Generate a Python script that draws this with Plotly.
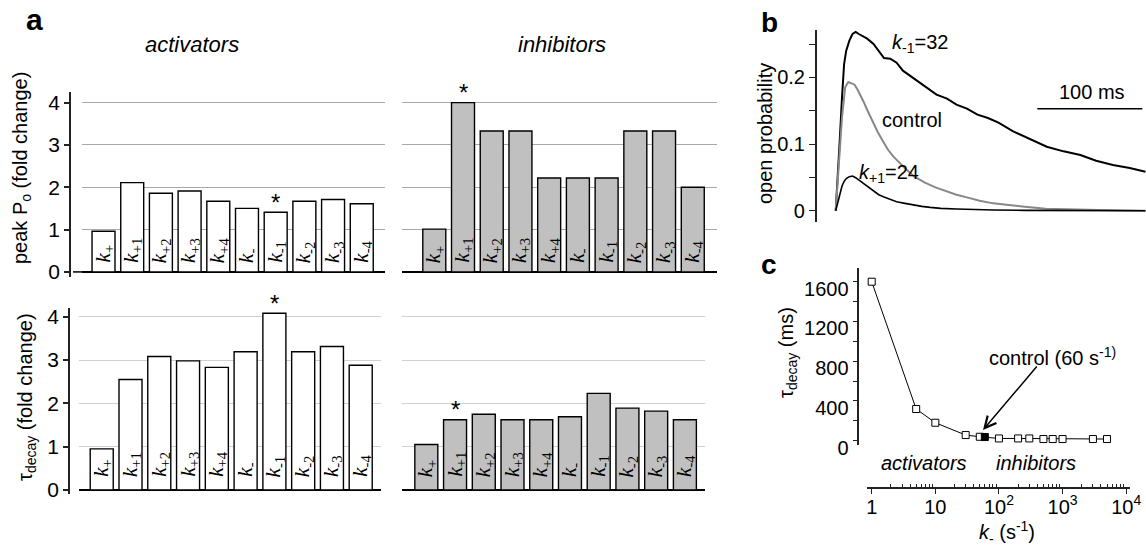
import plotly.graph_objects as go

W, H = 1146, 548
def px(x): return x / W
def py(y): return 1 - y / H

# ---------------- data ----------------
categories = ["k+", "k+1", "k+2", "k+3", "k+4", "k-", "k-1", "k-2", "k-3", "k-4"]
act_peak = [0.96, 2.11, 1.86, 1.91, 1.67, 1.50, 1.41, 1.67, 1.71, 1.61]
inh_peak = [1.01, 4.00, 3.33, 3.33, 2.22, 2.22, 2.22, 3.33, 3.33, 2.00]
act_tau = [0.95, 2.55, 3.08, 2.98, 2.83, 3.19, 4.08, 3.19, 3.31, 2.88]
inh_tau = [1.05, 1.62, 1.75, 1.62, 1.62, 1.69, 2.23, 1.89, 1.82, 1.62]
star_act_peak = ["k-1"]
star_inh_peak = ["k+1"]
star_act_tau = ["k-1"]
star_inh_tau = ["k+1"]
bar_ticks = [0, 1, 2, 3, 4]

# panel b traces (time in ms, open probability)
t_km1 = [0, 2, 4, 6, 8, 10, 13, 16, 19, 22, 26, 30, 36, 42, 46, 52, 58, 64, 70, 77, 85,
         96, 106, 115, 125, 135, 145, 155, 169, 185, 201, 217, 233, 248, 264, 280, 295]
p_km1 = [0, 0.05, 0.11, 0.17, 0.22, 0.24, 0.255, 0.265, 0.268, 0.265, 0.262, 0.258, 0.25,
         0.238, 0.229, 0.228, 0.222, 0.21, 0.203, 0.196, 0.186, 0.174, 0.168, 0.159, 0.153,
         0.144, 0.139, 0.132, 0.119, 0.107, 0.096, 0.089, 0.0835, 0.075, 0.0685, 0.064, 0.0585]
t_ctrl = [0, 3, 6, 9, 12, 15, 18, 21, 24, 27, 30, 33, 36, 40, 45, 50, 55, 60, 67, 75, 85,
          95, 105, 115, 125, 137, 150, 165, 180, 200, 220, 250, 295]
p_ctrl = [0, 0.07, 0.14, 0.185, 0.193, 0.191, 0.189, 0.181, 0.172, 0.162, 0.151, 0.141,
          0.131, 0.118, 0.104, 0.091, 0.081, 0.073, 0.062, 0.051, 0.042, 0.035, 0.029,
          0.024, 0.02, 0.015, 0.011, 0.008, 0.006, 0.003, 0.002, 0.001, 0]
t_kp1 = [0, 2, 4, 6, 8, 10, 13, 16, 19, 22, 26, 31, 36, 41, 46, 52, 58, 66, 74, 82, 90,
         100, 115, 130, 150, 180, 220, 295]
p_kp1 = [0, 0.014, 0.026, 0.037, 0.044, 0.048, 0.051, 0.052, 0.0495, 0.046, 0.041, 0.035,
         0.0285, 0.024, 0.0205, 0.017, 0.0135, 0.011, 0.0085, 0.0065, 0.005, 0.0035, 0.0025,
         0.0015, 0.001, 0.0005, 0, 0]
b_ticks = [0, 0.05, 0.1, 0.15, 0.2, 0.25]
b_ticktext = ["0", "", "0.1", "", "0.2", ""]

# panel c
k_minus = [1, 5, 10, 30, 50, 60, 100, 200, 300, 500, 700, 1000, 3000, 5000]
tau_decay = [1600, 319, 181, 57, 40, 37, 23, 23, 23, 17, 17, 17, 17, 17]
control_k = 60
c_yticks = [0, 200, 400, 600, 800, 1000, 1200, 1400, 1600]
c_yticktext = ["0", "", "400", "", "800", "", "1200", "", "1600"]
c_xticks = [1, 10, 100, 1000, 10000]
c_xticktext = ["1", "10", "10<sup>2</sup>", "10<sup>3</sup>", "10<sup>4</sup>"]

FONT = "Liberation Sans, Arial, sans-serif"
SERIF = "Liberation Serif, Times New Roman, serif"

fig = go.Figure()

panels = [
    ("x", "y", act_peak, "white", star_act_peak),
    ("x2", "y2", inh_peak, "#c0c0c0", star_inh_peak),
    ("x3", "y3", act_tau, "white", star_act_tau),
    ("x4", "y4", inh_tau, "#c0c0c0", star_inh_tau),
]
annotations = []
for xa, ya, vals, col, stars in panels:
    fig.add_trace(go.Bar(x=categories, y=vals, xaxis=xa, yaxis=ya, width=0.8,
                         marker=dict(color=col, line=dict(color="black", width=1.4))))
    top = ya in ("y", "y2")
    for c in categories:
        annotations.append(dict(x=c, y=0, xref=xa, yref=ya, text="<i>k</i><sub>%s</sub>" % c[1:],
                                textangle=-90, showarrow=False, xanchor="center", yanchor="bottom",
                                yshift=7 if top else 11,
                                font=dict(family=SERIF, size=21, color="black")))
    for c in stars:
        v = vals[categories.index(c)]
        annotations.append(dict(x=c, y=v, xref=xa, yref=ya, text="*", showarrow=False,
                                xanchor="center", yanchor="middle", yshift=10,
                                font=dict(family=FONT, size=24, color="black")))

# panel b
fig.add_trace(go.Scatter(x=t_km1, y=p_km1, xaxis="x5", yaxis="y5", mode="lines",
                         line=dict(color="black", width=2)))
fig.add_trace(go.Scatter(x=t_ctrl, y=p_ctrl, xaxis="x5", yaxis="y5", mode="lines",
                         line=dict(color="#888888", width=2)))
fig.add_trace(go.Scatter(x=t_kp1, y=p_kp1, xaxis="x5", yaxis="y5", mode="lines",
                         line=dict(color="black", width=1.6)))

# panel c
fig.add_trace(go.Scatter(x=k_minus, y=tau_decay, xaxis="x6", yaxis="y6", mode="lines+markers",
                         line=dict(color="black", width=1),
                         marker=dict(symbol="square", size=7,
                                     color=["black" if k == control_k else "white" for k in k_minus],
                                     line=dict(color="black", width=1))))

def bar_x(d0, d1, r0, r1):
    return dict(domain=[px(d0), px(d1)], range=[r0, r1], type="category", showticklabels=False,
                ticks="", showline=False, showgrid=False, zeroline=False, automargin=False)

def bar_y(d_top, d_bot, r0, r1, grid, axis_x=None):
    d = dict(domain=[py(d_bot), py(d_top)], range=[r0, r1], tickvals=bar_ticks,
             showgrid=True, gridcolor=grid, gridwidth=1, zeroline=True, zerolinecolor="black",
             zerolinewidth=1.5, automargin=False, tickfont=dict(family=FONT, size=21, color="black"))
    if axis_x is not None:
        d.update(anchor="free", position=px(axis_x), showline=True, linecolor="#222",
                 linewidth=1.5, ticks="outside", ticklen=5, tickwidth=1.5, tickcolor="#222",
                 showticklabels=True)
    else:
        d.update(showline=False, ticks="", showticklabels=False)
    return d

layout = dict(
    xaxis=bar_x(82, 385, -0.75, 9.81),
    yaxis=bar_y(92, 277, -0.12, 4.25, "#a8a8a8", axis_x=70),
    xaxis2=bar_x(401.7, 716.7, -1.135, 9.833),
    yaxis2=bar_y(92, 277, -0.12, 4.25, "#a8a8a8"),
    xaxis3=bar_x(79, 381, -0.79, 9.705),
    yaxis3=bar_y(308, 493.5, -0.08, 4.2, "#d0d0d0", axis_x=69),
    xaxis4=bar_x(401.7, 705, -0.857, 9.70),
    yaxis4=bar_y(308, 493.5, -0.08, 4.2, "#d0d0d0"),
    xaxis5=dict(domain=[px(816.7), 1.0], range=[-18.1, 295.5], visible=False, anchor="y5"),
    yaxis5=dict(domain=[py(221.7), py(30)], range=[-0.0165, 0.271], anchor="x5",
                tickvals=b_ticks, ticktext=b_ticktext, showline=True, linecolor="#222",
                linewidth=1.5, ticks="outside", ticklen=6, tickwidth=1.2, tickcolor="#222",
                showgrid=False, zeroline=False, automargin=False,
                tickfont=dict(family=FONT, size=20, color="black")),
    xaxis6=dict(domain=[px(867), px(1130)], type="log", range=[-0.074, 4.06], anchor="free",
                position=py(488), tickvals=c_xticks, ticktext=c_xticktext, showline=True,
                linecolor="#222", linewidth=1.5, ticks="outside", ticklen=5, tickwidth=1.2,
                tickcolor="#222", showgrid=False, zeroline=False, automargin=False,
                ticklabelstandoff=-4,
                tickfont=dict(family=FONT, size=20, color="black"),
                minor=dict(tickvals=[m * 10 ** e for e in range(0, 4) for m in range(2, 10)],
                           ticks="inside", ticklen=3, tickwidth=1, tickcolor="#222", showgrid=False)),
    yaxis6=dict(domain=[py(445), py(268)], range=[-43, 1738], anchor="free", position=px(858.3),
                tickvals=c_yticks, ticktext=c_yticktext, showline=True, linecolor="#222",
                linewidth=1.5, ticks="outside", ticklen=5, tickwidth=1.2, tickcolor="#222",
                showgrid=False, zeroline=False, automargin=False, ticklabelshift=7,
                tickfont=dict(family=FONT, size=20, color="black")),
)

def txt(x, y, s, size=20, angle=0, bold=False, family=FONT):
    return dict(x=px(x), y=py(y), xref="paper", yref="paper", text=("<b>%s</b>" % s) if bold else s,
                showarrow=False, xanchor="center", yanchor="middle", textangle=angle,
                font=dict(family=family, size=size, color="black"))

annotations += [
    txt(34, 20, "a", size=30, bold=True),
    txt(769, 22, "b", size=28, bold=True),
    txt(769, 265, "c", size=28, bold=True),
    txt(192, 45, "<i>activators</i>", size=22),
    txt(562, 45, "<i>inhibitors</i>", size=22),
    txt(21, 168, "peak P<sub>o</sub> (fold change)", size=20, angle=-90),
    txt(26, 397, "τ<sub>decay</sub> (fold change)", size=20, angle=-90),
    txt(765, 134, "open probability", size=20, angle=-90),
    txt(787, 353, "τ<sub>decay</sub> (ms)", size=20, angle=-90),
    txt(920, 43, "<i>k</i><sub>-1</sub>=32", size=20),
    txt(912, 120, "control", size=20),
    txt(889, 173, "<i>k</i><sub>+1</sub>=24", size=20),
    txt(1092, 92, "100 ms", size=20),
    txt(1052, 356, "control (60 s<sup>-1)</sup>", size=20),
    txt(924, 463, "<i>activators</i>", size=20),
    txt(1036, 463, "<i>inhibitors</i>", size=20),
    txt(1007, 532, "<i>k</i><sub>-</sub> (s<sup>-1</sup>)", size=20),
    dict(x=1.75, y=108, xref="x6", yref="y6", text="", showarrow=True, ax=55, ay=-65,
         arrowhead=5, arrowsize=1.5, arrowwidth=1.5, arrowcolor="black"),
]

shapes = [
    dict(type="line", xref="x5", yref="y5", x0=192, x1=292, y0=0.153, y1=0.153,
         line=dict(color="black", width=1.5)),
    dict(type="line", xref="paper", yref="y", x0=px(73), x1=px(82), y0=0, y1=0,
         line=dict(color="black", width=1.5)),
]

fig.update_layout(width=W, height=H, margin=dict(l=0, r=0, t=0, b=0), template="none",
                  showlegend=False, plot_bgcolor="white", paper_bgcolor="white",
                  font=dict(family=FONT, size=20, color="black"), bargap=0.2,
                  annotations=annotations, shapes=shapes, **layout)

fig.write_html("out.html", config={"displayModeBar": False},
               post_script="document.body.style.margin='0';document.body.style.padding='0';"
                           "document.body.style.overflow='hidden';")
